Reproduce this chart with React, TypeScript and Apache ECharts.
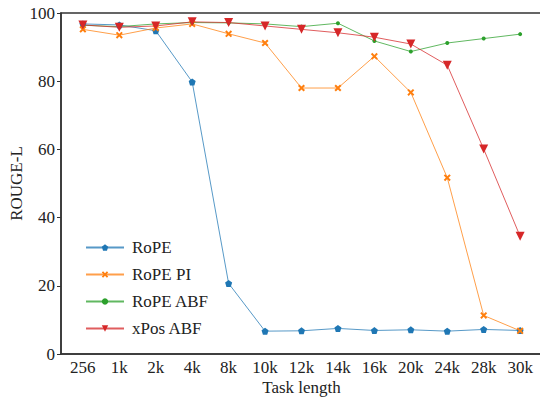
import React, { useEffect, useRef } from "react";
import * as echarts from "echarts";

const categories = ["256", "1k", "2k", "4k", "8k", "10k", "12k", "14k", "16k", "20k", "24k", "28k", "30k"];
const ropeValues = [96.8, 96.5, 94.8, 79.8, 20.7, 6.7, 6.8, 7.5, 6.9, 7.1, 6.7, 7.2, 6.9];
const ropePIValues = [95.2, 93.5, 95.6, 96.8, 93.9, 91.2, 78.0, 78.0, 87.3, 76.7, 51.7, 11.3, 6.8];
const ropeABFValues = [96.4, 96.0, 96.8, 97.2, 97.1, 96.8, 96.0, 97.0, 91.8, 88.7, 91.2, 92.5, 93.8];
const xposABFValues = [96.5, 95.8, 96.2, 97.4, 97.2, 96.2, 95.2, 94.2, 92.9, 90.9, 84.7, 60.1, 34.5];
const yTicks = [0, 20, 40, 60, 80, 100];

const PENTAGON = "path://M0,-1 L0.951,-0.309 L0.588,0.809 L-0.588,0.809 L-0.951,-0.309 Z";
const XFILLED = "path://M-1,-0.6 L-0.6,-1 L0,-0.4 L0.6,-1 L1,-0.6 L0.4,0 L1,0.6 L0.6,1 L0,0.4 L-0.6,1 L-1,0.6 L-0.4,0 Z";

const FONT = "Liberation Serif";

function toPairs(vals: number[]) {
  return vals.map((v, i) => [i, v]);
}

export default function App() {
  const ref = useRef<HTMLDivElement>(null);
  useEffect(() => {
    document.body.style.margin = "0";
    if (!ref.current) return;
    const chart = echarts.init(ref.current, null, { renderer: "svg" });
    const mk = (name: string, vals: number[], color: string, symbol: string, size: number, rotate = 0) => ({
      name,
      type: "line",
      data: toPairs(vals),
      symbol,
      symbolSize: size,
      symbolRotate: rotate,
      showSymbol: true,
      lineStyle: { color, width: 1, opacity: 0.75 },
      itemStyle: { color },
      emphasis: { disabled: true },
      clip: false,
    });
    chart.setOption({
      animation: false,
      backgroundColor: "#fff",
      textStyle: { fontFamily: FONT },
      grid: {
        left: 61,
        top: 13,
        width: 481,
        height: 341,
        show: true,
        borderColor: "#333",
        borderWidth: 1.5,
        containLabel: false,
        outerBoundsMode: "none",
      },
      legend: {
        orient: "vertical",
        left: 80,
        top: 234,
        itemWidth: 38,
        itemHeight: 8,
        itemGap: 10,
        textStyle: { fontFamily: FONT, fontSize: 17, color: "#222", padding: [0, 0, 0, 3] },
        data: ["RoPE", "RoPE PI", "RoPE ABF", "xPos ABF"],
      },
      xAxis: {
        type: "value",
        min: -0.6,
        max: 12.6,
        name: "Task length",
        nameLocation: "middle",
        nameGap: 25,
        nameMoveOverlap: false,
        nameTextStyle: { fontFamily: FONT, fontSize: 17, color: "#222" },
        axisLine: { show: true, onZero: false, lineStyle: { color: "#333", width: 1.5 } },
        axisTick: { show: false },
        splitLine: { show: false },
        axisLabel: {
          customValues: categories.map((_, i) => i),
          formatter: (v: number) => categories[Math.round(v)] ?? "",
          fontFamily: FONT,
          fontSize: 17,
          color: "#222",
          margin: 5,
        },
      },
      yAxis: {
        type: "value",
        min: 0,
        max: 100,
        interval: 20,
        name: "ROUGE-L",
        nameLocation: "middle",
        nameGap: 36,
        nameMoveOverlap: false,
        nameTextStyle: { fontFamily: FONT, fontSize: 17, color: "#222" },
        axisLine: { show: true, onZero: false, lineStyle: { color: "#333", width: 1.5 } },
        axisTick: { show: true, length: 4, lineStyle: { color: "#333", width: 1 } },
        splitLine: { show: false },
        axisLabel: {
          customValues: yTicks,
          fontFamily: FONT,
          fontSize: 17,
          color: "#222",
          margin: 6,
        },
      },
      series: [
        mk("RoPE", ropeValues, "#1f77b4", PENTAGON, 7),
        mk("RoPE PI", ropePIValues, "#ff7f0e", XFILLED, 7),
        mk("RoPE ABF", ropeABFValues, "#2ca02c", "circle", 4),
        mk("xPos ABF", xposABFValues, "#d62728", "triangle", 9, 180),
      ],
    });
    return () => chart.dispose();
  }, []);
  return <div ref={ref} style={{ width: 540, height: 398 }} />;
}
